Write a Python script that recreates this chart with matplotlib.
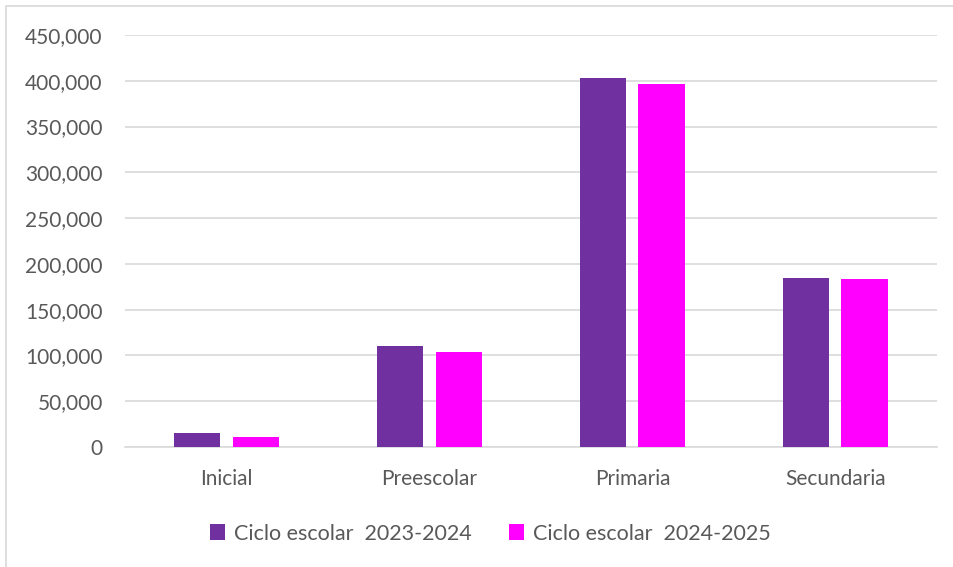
import numpy as np
import matplotlib
matplotlib.use("Agg")
import matplotlib.pyplot as plt
from matplotlib.ticker import FuncFormatter
from matplotlib.patches import Rectangle

categories = ["Inicial", "Preescolar", "Primaria", "Secundaria"]
ciclo_2023 = [15600, 110600, 402700, 184300]
ciclo_2024 = [10900, 103400, 396500, 183500]
series_labels = ["Ciclo escolar  2023-2024", "Ciclo escolar  2024-2025"]

plt.rcParams['font.family'] = ['Lato', 'DejaVu Sans']
gray = '#595959'

fig = plt.figure(figsize=(9.54, 5.67), dpi=100)
ax = fig.add_axes([0.131, 0.2116, 0.851, 0.7267])

# marco exterior
fig.patches.append(Rectangle((0.006, -0.01), 1.2, 0.999, transform=fig.transFigure,
                             fill=False, edgecolor='#d9d9d9', linewidth=1.2))

x = np.arange(len(categories))
w = 0.227
gap = 0.06
ax.bar(x - (w + gap) / 2, ciclo_2023, w, color='#7030A0', label=series_labels[0], zorder=3)
ax.bar(x + (w + gap) / 2, ciclo_2024, w, color='#FF00FF', label=series_labels[1], zorder=3)

ax.set_xlim(-0.5, len(categories) - 0.5)
ax.set_ylim(0, 450000)
ax.set_yticks(np.arange(0, 450001, 50000))
ax.yaxis.set_major_formatter(FuncFormatter(lambda v, p: f"{int(v):,}"))
ax.set_xticks(x)
ax.set_xticklabels(categories)

ax.grid(axis='y', color='#d9d9d9', linewidth=1.2, zorder=0)
for s in ['top', 'right', 'left']:
    ax.spines[s].set_visible(False)
ax.spines['bottom'].set_color('#d9d9d9')
ax.spines['bottom'].set_linewidth(1.2)
ax.tick_params(axis='both', length=0, colors=gray, labelsize=15)
ax.tick_params(axis='y', pad=16)
ax.tick_params(axis='x', pad=16)

ax.legend(loc='center', bbox_to_anchor=(0.45, -0.21), ncol=2, frameon=False,
          fontsize=15.5, labelcolor=gray, handlelength=0.7, handleheight=0.7,
          handletextpad=0.4, columnspacing=1.75)

fig.savefig("out.png", dpi=100)
